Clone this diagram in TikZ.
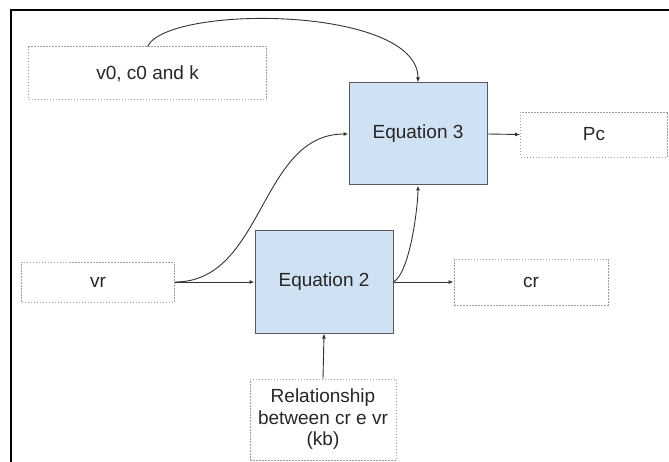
\documentclass[tikz,border=0pt]{standalone}
\usepackage{fontspec}
\setmainfont{Liberation Sans}
\usetikzlibrary{arrows.meta}
\definecolor{eqfill}{HTML}{CFE2F3}
\definecolor{eqline}{HTML}{595959}
\definecolor{inline}{HTML}{9E9E9E}
\definecolor{wire}{HTML}{333333}
\begin{document}
\begin{tikzpicture}[x=1pt,y=-1pt,
    eqbox/.style={draw=eqline,fill=eqfill,line width=1pt,inner sep=0pt},
    inbox/.style={draw=inline,line width=0.9pt,dash pattern=on 1.5pt off 1.5pt,inner sep=0pt},
    every node/.style={font=\fontsize{19}{21.5}\selectfont,text=black!85},
    >={Latex[length=5pt,width=4pt]}]
      \useasboundingbox (0,0) rectangle (669,462);
      \draw[line width=2pt] (669,10) -- (11,10) -- (11,462);
      \draw
        (147.6,73.4) node[inbox,minimum width=238,minimum height=53] (v0){v0, c0 and k}
        (418,134) node[eqbox,minimum width=138,minimum height=102] (eq3){Equation 3}
        (594,134.5) node[inbox,minimum width=147,minimum height=45] (pc){Pc}
        (98,282) node[inbox,minimum width=153,minimum height=40] (vr){vr}
        (324,282) node[eqbox,minimum width=138,minimum height=102] (eq2){Equation 2}
        (531,282) node[inbox,minimum width=154,minimum height=46] (cr){cr}
        (323,419.5) node[inbox,minimum width=146,minimum height=81,align=center] (rel){Relationship\\between cr e vr\\(kb)};
      \begin{scope}[->,draw=wire,line width=0.9pt]
        \draw (v0.north) .. controls +(20,-42) and +(0,-77) .. (eq3.north);
        \draw (vr.east) to[out=0,in=180] (eq3.west);
        \draw (vr.east) to (eq2.west);
        \draw (eq2.east) to[out=30,in=-90,looseness=0.5] (eq3.south);
        \draw (eq2.east) to (cr.west);
        \draw (eq3.east) to (pc.west);
        \draw (rel.north) to (eq2.south);
      \end{scope}
    \end{tikzpicture}
\end{document}
